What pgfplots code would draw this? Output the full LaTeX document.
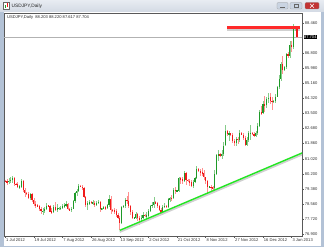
\documentclass[border=0pt]{standalone}
\usepackage{pgfplots}
\pgfplotsset{compat=1.18}
\usepackage{pgfplotstable}
\usepackage{fontspec}
\setmainfont{Liberation Sans}
\definecolor{bullbody}{HTML}{1E9A28}
\definecolor{bullwick}{HTML}{86CC8A}
\definecolor{bearbody}{HTML}{F01A1A}
\definecolor{bearwick}{HTML}{FF9090}
\definecolor{frameblue}{HTML}{B3C2D6}
\definecolor{titletop}{HTML}{E8ECF2}
\definecolor{titlebot}{HTML}{D3DAE4}
\definecolor{trendgreen}{HTML}{22E622}
\definecolor{shadowgray}{HTML}{D0D0D0}
\definecolor{lineRed}{HTML}{FF2A2A}
\pgfplotstableread{
i o h l c
0 79.80 79.86 79.74 79.78
1 79.78 79.92 79.60 79.77
2 79.77 79.95 79.62 79.83
3 79.83 80.00 79.70 79.86
4 79.86 80.10 79.72 79.95
5 79.95 80.05 79.55 79.65
6 79.65 79.70 79.58 79.62
7 79.62 79.75 79.40 79.48
8 79.48 79.60 79.35 79.50
9 79.50 79.90 79.40 79.78
10 79.78 79.85 79.20 79.29
11 79.29 79.40 78.95 79.14
12 79.14 79.20 79.05 79.10
13 79.10 79.20 78.80 78.87
14 78.87 79.15 78.75 79.07
15 79.07 79.12 78.65 78.78
16 78.78 78.85 78.45 78.55
17 78.55 78.70 78.35 78.47
18 78.47 78.52 78.38 78.42
19 78.42 78.50 78.15 78.29
20 78.29 78.40 78.00 78.14
21 78.14 78.30 77.95 78.15
22 78.15 78.40 78.05 78.28
23 78.28 78.60 78.20 78.46
24 78.46 78.50 78.40 78.44
25 78.44 78.50 78.10 78.13
26 78.13 78.30 78.00 78.11
27 78.11 78.50 78.05 78.37
28 78.37 78.65 78.15 78.24
29 78.24 78.55 78.10 78.30
30 78.30 78.36 78.24 78.32
31 78.32 78.45 78.20 78.32
32 78.32 78.55 78.25 78.42
33 78.42 78.60 78.30 78.48
34 78.48 78.70 78.40 78.55
35 78.55 78.60 78.20 78.26
36 78.26 78.32 78.15 78.22
37 78.22 78.40 78.10 78.29
38 78.29 78.75 78.25 78.69
39 78.69 79.20 78.60 79.16
40 79.16 79.35 79.00 79.27
41 79.27 79.65 79.20 79.54
42 79.54 79.58 79.45 79.50
43 79.50 79.60 79.30 79.44
44 79.44 79.50 78.85 78.94
45 78.94 79.00 78.40 78.48
46 78.48 78.70 78.20 78.59
47 78.59 78.75 78.50 78.66
48 78.66 78.70 78.55 78.60
49 78.60 78.75 78.50 78.62
50 78.62 78.70 78.40 78.49
51 78.49 78.70 78.45 78.61
52 78.61 78.75 78.55 78.65
53 78.65 78.70 78.10 78.28
54 78.28 78.35 78.20 78.30
55 78.30 78.45 78.25 78.36
56 78.36 78.45 78.20 78.32
57 78.32 78.55 78.25 78.47
58 78.47 79.05 78.40 78.82
59 78.82 79.00 78.00 78.22
60 78.22 78.28 78.10 78.18
61 78.18 78.30 78.00 78.17
62 78.17 78.25 77.85 77.93
63 77.93 78.05 77.70 77.77
64 77.77 77.90 77.13 77.50
65 77.50 78.45 77.45 78.38
66 78.38 78.50 78.30 78.45
67 78.45 78.85 78.35 78.79
68 78.79 79.00 78.55 78.72
69 78.72 79.20 78.30 78.44
70 78.44 78.50 77.95 78.08
71 78.08 78.20 77.70 77.78
72 77.78 77.85 77.70 77.80
73 77.80 78.10 77.70 77.99
74 77.99 78.05 77.60 77.77
75 77.77 77.90 77.40 77.72
76 77.72 77.95 77.60 77.79
77 77.79 78.10 77.70 77.96
78 77.96 78.00 77.85 77.90
79 77.90 78.10 77.75 77.91
80 77.91 78.25 77.85 78.17
81 78.17 78.50 78.10 78.46
82 78.46 78.65 78.35 78.49
83 78.49 78.90 78.30 78.65
84 78.65 78.70 78.55 78.60
85 78.60 78.65 78.30 78.41
86 78.41 78.50 78.15 78.22
87 78.22 78.30 77.95 78.04
88 78.04 78.50 77.95 78.40
89 78.40 78.60 78.30 78.43
90 78.43 78.48 78.35 78.40
91 78.40 78.85 78.35 78.80
92 78.80 78.95 78.65 78.87
93 78.87 79.05 78.70 78.86
94 78.86 79.40 78.80 79.32
95 79.32 79.50 79.10 79.26
96 79.26 79.32 79.20 79.28
97 79.28 80.00 79.20 79.95
98 79.95 80.05 79.65 79.91
99 79.91 80.00 79.65 79.79
100 79.79 80.35 79.75 80.24
101 80.24 80.30 79.60 79.87
102 79.87 79.92 79.75 79.80
103 79.80 79.90 79.55 79.75
104 79.75 79.85 79.45 79.51
105 79.51 79.85 79.40 79.77
106 79.77 80.00 79.70 79.96
107 79.96 80.65 79.90 80.45
108 80.45 80.50 80.30 80.35
109 80.35 80.45 80.10 80.26
110 80.26 80.50 80.10 80.24
111 80.24 80.40 79.85 80.00
112 80.00 80.05 79.65 79.80
113 79.80 79.85 79.10 79.49
114 79.49 79.55 79.40 79.50
115 79.50 79.60 79.25 79.44
116 79.44 79.55 79.15 79.43
117 79.43 80.40 79.30 80.20
118 80.20 81.30 80.15 81.22
119 81.22 81.50 80.90 81.26
120 81.26 81.35 81.10 81.20
121 81.20 81.50 81.00 81.31
122 81.31 81.95 81.20 81.75
123 81.75 82.85 81.70 82.52
124 82.52 82.60 82.25 82.40
125 82.40 82.55 82.00 82.41
126 82.41 82.45 82.25 82.30
127 82.30 82.45 81.90 82.02
128 82.02 82.10 81.70 81.91
129 81.91 82.20 81.70 82.09
130 82.09 82.20 81.85 82.07
131 82.07 82.60 81.95 82.45
132 82.45 82.50 82.30 82.35
133 82.35 82.45 82.05 82.17
134 82.17 82.25 81.75 81.80
135 81.80 82.20 81.70 82.07
136 82.07 82.55 81.95 82.44
137 82.44 82.85 82.05 82.44
138 82.44 82.50 82.30 82.38
139 82.38 82.50 82.20 82.29
140 82.29 82.55 82.20 82.45
141 82.45 83.00 82.35 82.82
142 82.82 83.70 82.75 83.56
143 83.56 83.90 83.40 83.55
144 83.55 84.20 83.50 84.00
145 84.00 84.45 83.60 83.97
146 83.97 84.40 83.80 84.31
147 84.31 84.60 84.10 84.38
148 84.38 84.60 84.00 84.20
149 84.20 84.40 83.70 84.18
150 84.18 84.25 84.10 84.20
151 84.20 84.55 84.10 84.43
152 84.43 85.00 84.40 84.95
153 84.95 85.60 84.85 85.41
154 85.41 86.30 85.30 86.20
155 86.20 86.64 85.65 85.90
156 85.90 86.10 85.85 86.05
157 86.05 86.80 85.95 86.75
158 86.75 86.85 86.55 86.65
159 86.65 87.45 86.55 87.24
160 87.24 87.50 86.85 87.16
161 87.16 88.41 87.05 88.17
162 88.17 88.25 88.05 88.20
163 88.203 88.220 87.617 87.704
}\bars
\pgfplotstableread{
x y
64 77.10
168 81.43
}\trendline
\begin{document}
\begin{tikzpicture}[x=1pt,y=1pt]
% window frame
\fill[frameblue] (0,0) rectangle (324,247);
\shade[top color=titletop, bottom color=titlebot] (0,235) rectangle (324,247);
\fill[white] (4,1) rectangle (321,235);
% title icon and text
\fill[white, draw=black!60, line width=0.3pt] (3,237.5) rectangle (9.5,244.5);
\fill[bullbody] (4.5,238.5) rectangle (5.5,242);
\fill[bearbody] (6.5,239.5) rectangle (7.5,243.5);
\node[anchor=west, inner sep=0pt, font=\fontsize{4.8}{5}\selectfont, text=black!85] at (11.5,241) {USDJPY,Daily};
% window buttons
\fill[rounded corners=1pt, fill=frameblue!70, draw=black!40, line width=0.3pt] (277,238) rectangle (288,244.5);
\draw[black!60, line width=0.6pt] (280,239.8) -- (285,239.8);
\fill[rounded corners=1pt, fill=frameblue!70, draw=black!40, line width=0.3pt] (290,238) rectangle (302,244.5);
\draw[black!60, line width=0.4pt] (294,239.3) rectangle (298,243);
\fill[rounded corners=1pt, fill=red!70!black!80, draw=black!40, line width=0.3pt] (305,238) rectangle (319,244.5);
\draw[white, line width=0.6pt] (310,239.3) -- (314,243.2) (310,243.2) -- (314,239.3);
\begin{axis}[
  at={(4pt,11pt)}, anchor=south west,
  scale only axis, width=298pt, height=223pt,
  xmin=-0.67, xmax=165.8, ymin=76.79, ymax=89.01,
  axis line style={draw=black!65, line width=0.5pt},
  xtick={0,16,...,160},
  xticklabels={1 Jul 2012,19 Jul 2012,7 Aug 2012,26 Aug 2012,13 Sep 2012,2 Oct 2012,21 Oct 2012,8 Nov 2012,27 Nov 2012,16 Dec 2012,3 Jan 2013},
  ytick={76.9,77.72,78.56,79.38,80.2,81.02,81.86,82.68,83.5,84.32,85.16,85.98,86.8,88.46},
  yticklabels={76.900,77.720,78.560,79.380,80.200,81.020,81.860,82.680,83.500,84.320,85.160,85.980,86.800,88.460},
  xtick pos=left, ytick pos=right, yticklabel pos=right,
  tick align=outside, major tick length=1.8pt,
  tick style={draw=black!65, line width=0.4pt},
  ticklabel style={font=\fontsize{4.1}{4.5}\selectfont, text=black!80, inner sep=0.4pt},
  xticklabel style={anchor=north west, xshift=0.3pt},
  yticklabel style={anchor=west, xshift=0.5pt},
]
% current price line
\addplot[draw=black!30, line width=0.5pt, forget plot] coordinates {(-2,87.704) (170,87.704)};
% resistance line shadow
\addplot[fill=shadowgray, draw=shadowgray, line width=0.2pt, forget plot] coordinates {(123.9,88.15) (164.1,88.15) (164.1,88.06) (123.9,88.06)} -- cycle;
% wicks
\addplot[draw=none, mark=none, forget plot,
  restrict expr to domain={\thisrow{c}-\thisrow{o}}{0:100},
  error bars/.cd, y dir=both, y explicit, error mark=none,
  error bar style={draw=bullwick, line width=0.55pt}]
  table[x=i, y expr={(\thisrow{h}+\thisrow{l})/2}, y error expr={(\thisrow{h}-\thisrow{l})/2}] {\bars};
\addplot[draw=none, mark=none, forget plot,
  restrict expr to domain={\thisrow{c}-\thisrow{o}}{-100:-0.000001},
  error bars/.cd, y dir=both, y explicit, error mark=none,
  error bar style={draw=bearwick, line width=0.55pt}]
  table[x=i, y expr={(\thisrow{h}+\thisrow{l})/2}, y error expr={(\thisrow{h}-\thisrow{l})/2}] {\bars};
% bodies
\addplot[draw=none, mark=none, forget plot,
  restrict expr to domain={\thisrow{c}-\thisrow{o}}{0:100},
  error bars/.cd, y dir=both, y explicit, error mark=none,
  error bar style={draw=bullbody, line width=1.15pt}]
  table[x=i, y expr={(\thisrow{o}+\thisrow{c})/2}, y error expr={max(abs(\thisrow{c}-\thisrow{o})/2,0.022)}] {\bars};
\addplot[draw=none, mark=none, forget plot,
  restrict expr to domain={\thisrow{c}-\thisrow{o}}{-100:-0.000001},
  error bars/.cd, y dir=both, y explicit, error mark=none,
  error bar style={draw=bearbody, line width=1.15pt}]
  table[x=i, y expr={(\thisrow{o}+\thisrow{c})/2}, y error expr={max(abs(\thisrow{c}-\thisrow{o})/2,0.022)}] {\bars};
% resistance line
\addplot[fill=lineRed, draw=lineRed, line width=0.3pt, forget plot] coordinates {(123.9,88.28) (164.1,88.28) (164.1,88.16) (123.9,88.16)} -- cycle;
% trend line with shadow
\addplot[draw=shadowgray, line width=1.8pt, forget plot] table[x=x, y expr={\thisrow{y}-0.09}] {\trendline};
\addplot[draw=trendgreen, line width=1.4pt, forget plot] table[x=x, y=y] {\trendline};
\end{axis}
% info line and price box
\node[anchor=west, inner sep=0pt, font=\fontsize{4.1}{4.5}\selectfont, text=black!85] at (7,230) {USDJPY,Daily\ \ 88.203 88.220 87.617 87.704};
\node[anchor=west, fill=black, text=white, inner sep=0.5pt, font=\fontsize{4.1}{4.5}\selectfont] at (303.3,209.9) {87.704};
\end{tikzpicture}
\end{document}
